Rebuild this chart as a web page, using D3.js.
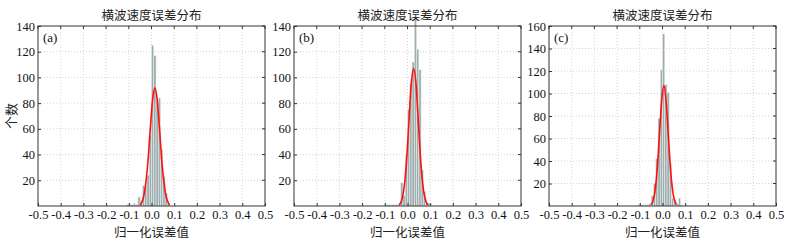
<!DOCTYPE html>
<html>
<head>
<meta charset="utf-8">
<script src="https://cdn.jsdelivr.net/npm/d3@7"></script>
<style>
  body { margin: 0; background: #fff; }
  svg { display: block; }
  .tick text { font-family: "Liberation Serif", "Times New Roman", serif; font-size: 12.5px; fill: #111; }
  .cjk { font-family: "Noto Sans CJK SC", sans-serif; fill: #222; }
</style>
</head>
<body>
<div id="chart"></div>
<script>
// x axis ticks (shared) and histogram bin width
const xTicks = [-0.5, -0.4, -0.3, -0.2, -0.1, 0.0, 0.1, 0.2, 0.3, 0.4, 0.5];
const binWidth = 0.01;

// (a) bins: left edge -> count
const binLeftA = [-0.11, -0.10, -0.09, -0.08, -0.07, -0.06, -0.05, -0.04, -0.03, -0.02, -0.01, 0.00, 0.01, 0.02, 0.03, 0.04, 0.05, 0.06, 0.07];
const countsA  = [1, 1, 1, 2, 1, 7, 4, 16, 16, 24, 55, 125, 117, 82, 84, 44, 23, 10, 2];
const curveA = [[-0.05, 0.8], [-0.045, 2], [-0.035, 7], [-0.025, 18], [-0.015, 36], [-0.005, 61], [0.005, 83], [0.015, 92],
                [0.025, 83], [0.035, 61], [0.045, 36], [0.055, 18], [0.065, 7], [0.075, 2], [0.08, 0.8]];

// (b)
const binLeftB = [-0.10, -0.09, -0.08, -0.07, -0.06, -0.05, -0.04, -0.03, -0.02, -0.01, 0.00, 0.01, 0.02, 0.03, 0.04, 0.05, 0.06, 0.07, 0.08, 0.09];
const countsB  = [1, 1, 1, 1, 1, 1, 2, 18, 8, 40, 75, 95, 112, 147, 122, 106, 28, 11, 3, 2];
const curveB = [[-0.036, 0.8], [-0.023, 6], [-0.013, 17], [-0.003, 38], [0.007, 68], [0.017, 96], [0.027, 107],
                [0.037, 96], [0.047, 68], [0.057, 38], [0.067, 17], [0.077, 6], [0.09, 0.8]];

// (c)
const binLeftC = [-0.11, -0.10, -0.09, -0.08, -0.07, -0.06, -0.05, -0.04, -0.03, -0.02, -0.01, 0.00, 0.01, 0.02, 0.03, 0.04, 0.05, 0.06, 0.07, 0.08];
const countsC  = [1, 1, 1, 1, 1, 2, 9, 20, 42, 78, 121, 153, 108, 101, 38, 7, 5, 2, 7, 1];
const curveC = [[-0.05, 1.4], [-0.044, 3.4], [-0.034, 11.7], [-0.024, 31], [-0.014, 61.5], [-0.004, 93], [0.006, 107],
                [0.016, 93], [0.026, 61.5], [0.036, 31], [0.046, 11.7], [0.056, 3.4], [0.062, 1.4]];

const yTicksAB = [20, 40, 60, 80, 100, 120, 140];
const yTicksC  = [20, 40, 60, 80, 100, 120, 140, 160];

const titleText = "横波速度误差分布";
const xLabelText = "归一化误差值";
const yLabelText = "个数";

const W = 791, H = 241;
const svg = d3.select("#chart").append("svg").attr("width", W).attr("height", H);

const panels = [
  { left: 38,  right: 265, yMax: 140, yTicks: yTicksAB, starts: binLeftA, counts: countsA, curve: curveA, tag: "(a)", ylab: true },
  { left: 294, right: 521, yMax: 140, yTicks: yTicksAB, starts: binLeftB, counts: countsB, curve: curveB, tag: "(b)", ylab: false },
  { left: 549, right: 776, yMax: 160, yTicks: yTicksC,  starts: binLeftC, counts: countsC, curve: curveC, tag: "(c)", ylab: false }
];

const plotTop = 26, plotBottom = 206;

panels.forEach(p => {
  const x = d3.scaleLinear().domain([-0.5, 0.5]).range([p.left, p.right]);
  const y = d3.scaleLinear().domain([0, p.yMax]).range([plotBottom, plotTop]);
  const g = svg.append("g");

  // plot background
  g.append("rect")
    .attr("x", p.left).attr("y", plotTop)
    .attr("width", p.right - p.left).attr("height", plotBottom - plotTop)
    .attr("fill", "#fff");

  // dotted grid
  g.selectAll(".gx").data(xTicks.slice(1, -1)).join("line")
    .attr("x1", d => x(d)).attr("x2", d => x(d))
    .attr("y1", plotTop).attr("y2", plotBottom)
    .attr("stroke", "#c8c8c8").attr("stroke-width", 0.8).attr("stroke-dasharray", "1,2");
  g.selectAll(".gy").data(p.yTicks.filter(d => d < p.yMax)).join("line")
    .attr("x1", p.left).attr("x2", p.right)
    .attr("y1", d => y(d)).attr("y2", d => y(d))
    .attr("stroke", "#c8c8c8").attr("stroke-width", 0.8).attr("stroke-dasharray", "1,2");

  // histogram bars
  g.selectAll(".bar").data(p.starts.map((s, i) => ({ s, c: p.counts[i] }))).join("rect")
    .attr("x", d => x(d.s))
    .attr("width", d => x(d.s + binWidth) - x(d.s))
    .attr("y", d => y(d.c))
    .attr("height", d => y(0) - y(d.c))
    .attr("fill", "#9eadad")
    .attr("stroke", "#eef2f2")
    .attr("stroke-width", 0.5);

  // fitted curve
  g.append("path")
    .datum(p.curve)
    .attr("d", d3.line().x(d => x(d[0])).y(d => y(d[1])).curve(d3.curveMonotoneX))
    .attr("fill", "none")
    .attr("stroke", "#ff1010")
    .attr("stroke-width", 1.6);

  // axes
  const xAxis = g.append("g")
    .attr("transform", `translate(0,${plotBottom})`)
    .call(d3.axisBottom(x).tickValues(xTicks).tickSize(-3).tickPadding(4));
  xAxis.selectAll(".tick text").text(d => d3.format(".1f")(d).replace("−", "-"));

  const yAxis = g.append("g")
    .attr("transform", `translate(${p.left},0)`)
    .call(d3.axisLeft(y).tickValues(p.yTicks).tickSize(-3).tickPadding(3));

  [xAxis, yAxis].forEach(a => {
    a.select(".domain").remove();
    a.selectAll(".tick line").attr("stroke", "#333");
  });

  // top/right ticks
  g.selectAll(".tt").data(xTicks).join("line")
    .attr("x1", d => x(d)).attr("x2", d => x(d)).attr("y1", plotTop).attr("y2", plotTop + 3)
    .attr("stroke", "#333");
  g.selectAll(".rt").data(p.yTicks).join("line")
    .attr("x1", p.right).attr("x2", p.right - 3).attr("y1", d => y(d)).attr("y2", d => y(d))
    .attr("stroke", "#333");

  // frame
  g.append("rect")
    .attr("x", p.left).attr("y", plotTop)
    .attr("width", p.right - p.left).attr("height", plotBottom - plotTop)
    .attr("fill", "none").attr("stroke", "#333").attr("stroke-width", 1);

  // panel tag
  g.append("text")
    .attr("x", p.left + 5).attr("y", plotTop + 16)
    .style("font-family", "'Liberation Serif', serif").style("font-size", "13px").style("fill", "#111")
    .text(p.tag);

  const cx = (p.left + p.right) / 2;
  g.append("text").attr("class", "cjk")
    .attr("x", cx).attr("y", 20).attr("text-anchor", "middle")
    .style("font-size", "12.5px").text(titleText);
  g.append("text").attr("class", "cjk")
    .attr("x", cx).attr("y", 237).attr("text-anchor", "middle")
    .style("font-size", "12.5px").text(xLabelText);

  if (p.ylab) {
    g.append("text").attr("class", "cjk")
      .attr("transform", `translate(16,${(plotTop + plotBottom) / 2}) rotate(-90)`)
      .attr("text-anchor", "middle")
      .style("font-size", "13px").text(yLabelText);
  }
});
</script>
</body>
</html>
